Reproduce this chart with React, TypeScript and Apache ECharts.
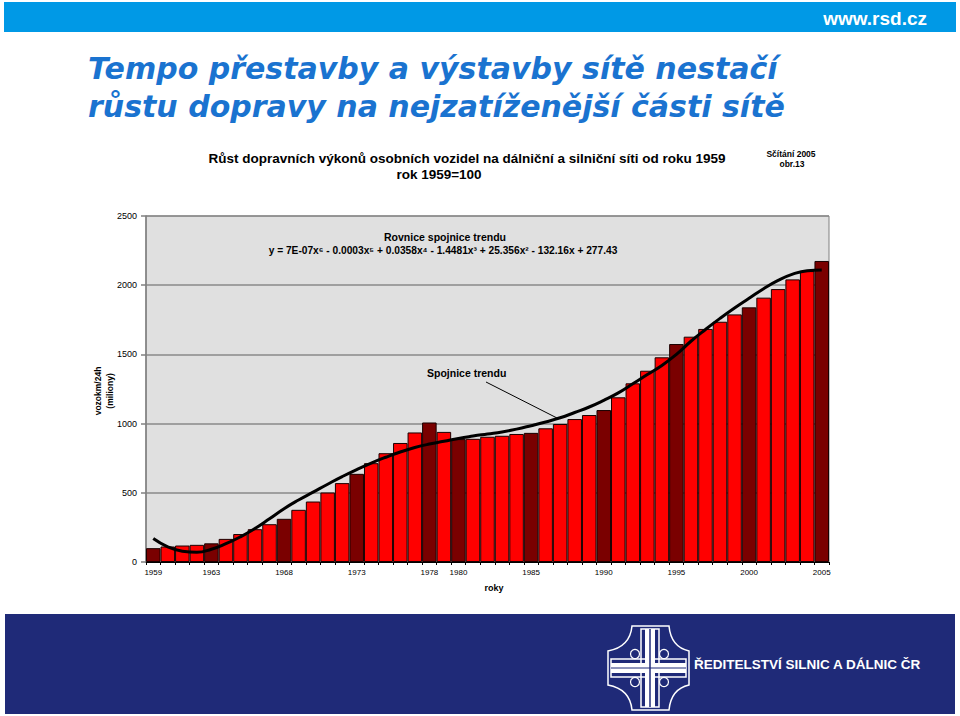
import React, { useEffect, useRef } from "react";
import * as echarts from "echarts";

const years: string[] = [
  "1959","1960","1961","1962","1963","1964","1965","1966","1967","1968",
  "1969","1970","1971","1972","1973","1974","1975","1976","1977","1978",
  "1979","1980","1981","1982","1983","1984","1985","1986","1987","1988",
  "1989","1990","1991","1992","1993","1994","1995","1996","1997","1998",
  "1999","2000","2001","2002","2003","2004","2005",
];
const values: number[] = [
  100, 112, 119, 124, 135, 167, 202, 237, 273, 312,
  377, 437, 502, 570, 637, 714, 786, 860, 936, 1008,
  940, 888, 890, 905, 912, 925, 933, 966, 997, 1033,
  1062, 1098, 1190, 1291, 1382, 1479, 1575, 1628, 1684, 1736,
  1789, 1840, 1910, 1972, 2042, 2102, 2175,
];
const trend: number[] = [
  170, 110, 78, 70, 92, 132, 182, 242, 312, 385,
  448, 505, 562, 617, 668, 715, 757, 795, 827, 852,
  872, 893, 910, 925, 940, 960, 985, 1012, 1042, 1080,
  1120, 1168, 1222, 1288, 1355, 1420, 1500, 1595, 1680, 1760,
  1835, 1905, 1975, 2035, 2080, 2105, 2110,
];
const labeledYears: string[] = ["1959","1963","1968","1973","1978","1980","1985","1990","1995","2000","2005"];
const yTicks = { min: 0, max: 2500, interval: 500 };

const logoPath =
  "M24,0 L61,0 Q63,21 81,25 L81,59 Q63,63 61,84 L24,84 Q22,63 0,59 L0,25 Q22,21 24,0 Z";

export default function App() {
  const ref = useRef<HTMLDivElement>(null);
  useEffect(() => {
    if (!ref.current) return;
    try {
      echarts.graphic.registerShape("logo", echarts.graphic.extendPath(logoPath, {}) as any);
    } catch (e) {}
    const chart = echarts.init(ref.current, null, { renderer: "svg" });
    const font = "Arial, 'Liberation Sans', sans-serif";
    const titleFont = "'DejaVu Sans', Arial, sans-serif";
    const lx = 608, ly = 626;
    const option: any = {
      animation: false,
      backgroundColor: "#ffffff",
      grid: {
        left: 146, right: 131, top: 216, bottom: 154,
        show: true, backgroundColor: "#e0e0e0", borderColor: "#808080", borderWidth: 1,
      },
      xAxis: {
        type: "category",
        data: years,
        boundaryGap: true,
        axisLine: { lineStyle: { color: "#000", width: 1 } },
        axisTick: { show: true, interval: 0, length: 3, lineStyle: { color: "#000" } },
        axisLabel: {
          interval: (i: number, v: string) => labeledYears.includes(v),
          fontFamily: font, fontSize: 8, color: "#000", margin: 6,
        },
        splitLine: { show: false },
      },
      yAxis: {
        type: "value",
        min: yTicks.min, max: yTicks.max, interval: yTicks.interval,
        axisLine: { show: true, lineStyle: { color: "#808080", width: 1.5 } },
        axisTick: { show: true, length: 5, lineStyle: { color: "#808080", width: 1.5 } },
        axisLabel: { fontFamily: font, fontSize: 9, color: "#000", margin: 9, formatter: (v: number) => String(v) },
        splitLine: { show: true, lineStyle: { color: "#8a8a8a", width: 1.5 } },
      },
      series: [
        {
          type: "bar",
          data: values.map((v, i) => ({
            value: v,
            itemStyle: { color: labeledYears.includes(years[i]) ? "#7a0000" : "#ff0000" },
          })),
          barCategoryGap: "0%",
          itemStyle: { borderColor: "#1a0000", borderWidth: 1 },
          z: 2,
        },
        {
          type: "line",
          data: trend,
          smooth: true,
          showSymbol: false,
          symbol: "none",
          lineStyle: { color: "#000", width: 3 },
          z: 5,
        },
      ],
      graphic: [
        { type: "rect", shape: { x: 4, y: 2, width: 952, height: 30 }, style: { fill: "#0099e6" } },
        { type: "text", x: 927, y: 18, style: { text: "www.rsd.cz", fill: "#fff", font: `bold 19px ${font}`, textAlign: "right", textVerticalAlign: "middle" } },
        { type: "text", x: 88, y: 68, style: { text: "Tempo přestavby a výstavby sítě nestačí", fill: "#1a73d0", font: `oblique bold 30px ${titleFont}`, textVerticalAlign: "middle" } },
        { type: "text", x: 88, y: 106, style: { text: "růstu dopravy na nejzatíženější části sítě", fill: "#1a73d0", font: `oblique bold 30px ${titleFont}`, textVerticalAlign: "middle" } },
        { type: "text", x: 467, y: 158, style: { text: "Růst dopravních výkonů osobních vozidel na dálniční a silniční síti od roku 1959", fill: "#000", font: `bold 13.5px ${font}`, textAlign: "center", textVerticalAlign: "middle" } },
        { type: "text", x: 439, y: 174, style: { text: "rok 1959=100", fill: "#000", font: `bold 13.5px ${font}`, textAlign: "center", textVerticalAlign: "middle" } },
        { type: "text", x: 791, y: 154, style: { text: "Sčítání 2005", fill: "#000", font: `bold 8.5px ${font}`, textAlign: "center", textVerticalAlign: "middle" } },
        { type: "text", x: 792, y: 164, style: { text: "obr.13", fill: "#000", font: `bold 8.5px ${font}`, textAlign: "center", textVerticalAlign: "middle" } },
        { type: "text", x: 445, y: 237, style: { text: "Rovnice spojnice trendu", fill: "#000", font: `bold 10.5px ${font}`, textAlign: "center", textVerticalAlign: "middle" }, z: 10 },
        { type: "text", x: 443, y: 250, style: { text: "y = 7E-07x⁶ - 0.0003x⁵ + 0.0358x⁴ - 1.4481x³ + 25.356x² - 132.16x + 277.43", fill: "#000", font: `bold 10.2px ${font}`, textAlign: "center", textVerticalAlign: "middle" }, z: 10 },
        { type: "text", x: 427, y: 373, style: { text: "Spojnice trendu", fill: "#000", font: `bold 10.5px ${font}`, textVerticalAlign: "middle" }, z: 10 },
        { type: "line", shape: { x1: 486, y1: 382, x2: 557, y2: 418 }, style: { stroke: "#000", lineWidth: 1 }, z: 10 },
        { type: "text", x: 98, y: 391, rotation: Math.PI / 2, style: { text: "vozokm/24h", fill: "#000", font: `bold 8.5px ${font}`, textAlign: "center", textVerticalAlign: "middle" } },
        { type: "text", x: 110, y: 391, rotation: Math.PI / 2, style: { text: "(miliony)", fill: "#000", font: `bold 8.5px ${font}`, textAlign: "center", textVerticalAlign: "middle" } },
        { type: "text", x: 494, y: 588, style: { text: "roky", fill: "#000", font: `bold 9px ${font}`, textAlign: "center", textVerticalAlign: "middle" } },
        { type: "rect", shape: { x: 5, y: 614, width: 950, height: 100 }, style: { fill: "#1f2a78" } },
        { type: "logo", x: lx, y: ly, scaleX: 1, scaleY: 1, style: { fill: "#1f2a78", stroke: "#ffffff", lineWidth: 1.5 } },
        { type: "rect", shape: { x: lx + 33, y: ly + 3, width: 18, height: 78 }, style: { fill: "none", stroke: "#ffffff", lineWidth: 1.5 } },
        { type: "rect", shape: { x: lx + 3, y: ly + 33, width: 75, height: 18 }, style: { fill: "none", stroke: "#ffffff", lineWidth: 1.5 } },
        { type: "rect", shape: { x: lx + 37, y: ly + 3, width: 10, height: 78 }, style: { fill: "#ffffff" } },
        { type: "rect", shape: { x: lx + 3, y: ly + 37, width: 75, height: 10 }, style: { fill: "#ffffff" } },
        { type: "line", shape: { x1: lx + 42, y1: ly + 3, x2: lx + 42, y2: ly + 81 }, style: { stroke: "#1f2a78", lineWidth: 1.5 } },
        { type: "line", shape: { x1: lx + 3, y1: ly + 42, x2: lx + 78, y2: ly + 42 }, style: { stroke: "#1f2a78", lineWidth: 1 } },
        { type: "circle", shape: { cx: lx + 27, cy: ly + 28, r: 4.5 }, style: { fill: "none", stroke: "#fff", lineWidth: 1.2 } },
        { type: "circle", shape: { cx: lx + 56, cy: ly + 28, r: 4.5 }, style: { fill: "none", stroke: "#fff", lineWidth: 1.2 } },
        { type: "circle", shape: { cx: lx + 27, cy: ly + 56, r: 4.5 }, style: { fill: "none", stroke: "#fff", lineWidth: 1.2 } },
        { type: "circle", shape: { cx: lx + 56, cy: ly + 56, r: 4.5 }, style: { fill: "none", stroke: "#fff", lineWidth: 1.2 } },
        { type: "text", x: 694, y: 664, style: { text: "ŘEDITELSTVÍ SILNIC A DÁLNIC ČR", fill: "#fff", font: `bold 13.5px ${font}`, textVerticalAlign: "middle" } },
      ],
    };
    chart.setOption(option);
    return () => chart.dispose();
  }, []);
  return <div ref={ref} style={{ position: "absolute", left: 0, top: 0, width: 960, height: 716 }} />;
}
